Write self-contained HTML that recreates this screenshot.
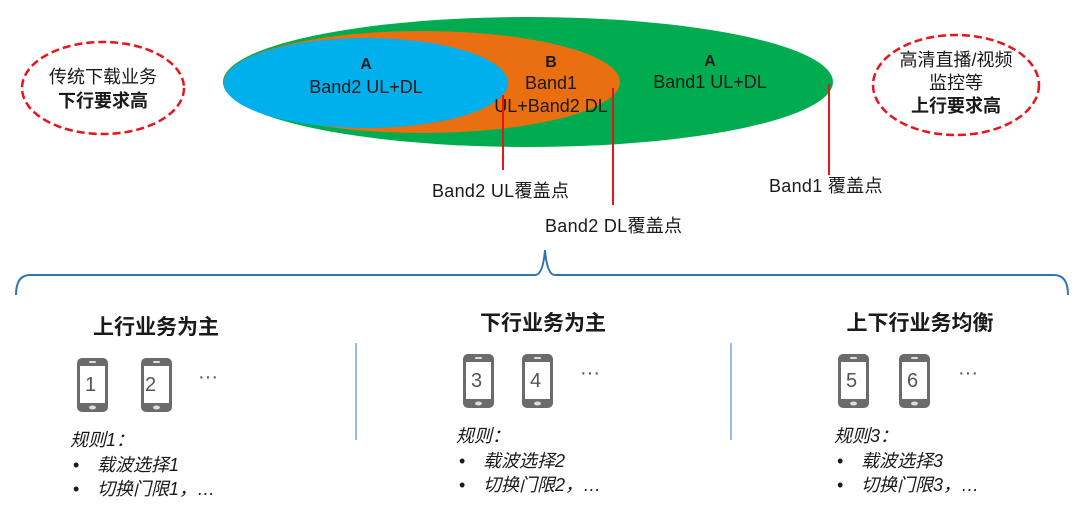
<!DOCTYPE html>
<html><head><meta charset="utf-8"><style>
body{margin:0;width:1080px;height:517px;background:#fff;overflow:hidden;font-family:"Liberation Sans","Noto Sans CJK SC",sans-serif;}
svg text{font-family:"Liberation Sans","Noto Sans CJK SC",sans-serif;}
</style></head><body>
<svg width="1080" height="517" viewBox="0 0 1080 517" xmlns="http://www.w3.org/2000/svg">
<defs>
<g id="ph">
<rect x="0" y="0" width="31" height="54" rx="5" fill="#6b6b6b"/>
<rect x="3" y="8" width="25" height="37" fill="#fff"/>
<rect x="12" y="3" width="7" height="2" rx="1" fill="#ddd"/>
<ellipse cx="15.5" cy="49.5" rx="3.5" ry="2" fill="#ddd"/>
</g>
</defs>
<ellipse cx="528" cy="82" rx="305" ry="65" fill="#00ac4f"/>
<ellipse cx="422" cy="82" rx="198" ry="51" fill="#e96f10"/>
<ellipse cx="366" cy="83" rx="142" ry="45" fill="#00b0ec"/>
<g fill="#1a1a1a" font-size="18" text-anchor="middle">
<text x="366" y="69" font-weight="bold" font-size="16">A</text>
<text x="366" y="93">Band2 UL+DL</text>
<text x="551" y="67" font-weight="bold" font-size="16">B</text>
<text x="551" y="89">Band1</text>
<text x="551" y="112">UL+Band2 DL</text>
<text x="710" y="66" font-weight="bold" font-size="16">A</text>
<text x="710" y="88">Band1 UL+DL</text>
</g>
<g stroke="#e8141c" stroke-width="2">
<line x1="503" y1="95" x2="503" y2="170"/>
<line x1="613" y1="88" x2="613" y2="205"/>
<line x1="829" y1="84" x2="829" y2="175"/>
</g>
<g fill="#1a1a1a" font-size="18" letter-spacing="0.3">
<text x="432" y="197">Band2 UL覆盖点</text>
<text x="545" y="232">Band2 DL覆盖点</text>
<text x="769" y="192">Band1 覆盖点</text>
</g>
<ellipse cx="103" cy="88" rx="81" ry="46" fill="none" stroke="#e8141c" stroke-width="2.5" stroke-dasharray="8,4"/>
<ellipse cx="956" cy="85" rx="83" ry="50" fill="none" stroke="#e8141c" stroke-width="2.5" stroke-dasharray="8,4"/>
<g fill="#1a1a1a" font-size="18" text-anchor="middle">
<text x="103" y="83">传统下载业务</text>
<text x="103" y="107" font-weight="bold">下行要求高</text>
<text x="956" y="66">高清直播/视频</text>
<text x="956" y="89">监控等</text>
<text x="956" y="112" font-weight="bold">上行要求高</text>
</g>
<path d="M16 295 Q16 275 30 275 L535 275 Q543 275 545 250 Q547 275 555 275 L1054 275 Q1068 275 1068 295" fill="none" stroke="#2e75b6" stroke-width="2"/>
<g stroke="#6fa8dc" stroke-width="1.5">
<line x1="356" y1="343" x2="356" y2="440"/>
<line x1="731" y1="343" x2="731" y2="440"/>
</g>
<g fill="#1a1a1a" font-size="21" font-weight="bold" text-anchor="middle">
<text x="156" y="334">上行业务为主</text>
<text x="543" y="330">下行业务为主</text>
<text x="920" y="330">上下行业务均衡</text>
</g>
<use href="#ph" x="77" y="358"/><use href="#ph" x="141" y="358"/>
<use href="#ph" x="463" y="354"/><use href="#ph" x="522" y="354"/>
<use href="#ph" x="838" y="354"/><use href="#ph" x="899" y="354"/>
<g fill="#555" font-size="20">
<text x="85" y="391">1</text><text x="145" y="391">2</text>
<text x="471" y="387">3</text><text x="530" y="387">4</text>
<text x="846" y="387">5</text><text x="907" y="387">6</text>
<text x="198" y="383" font-size="20">···</text>
<text x="580" y="379" font-size="20">···</text>
<text x="958" y="379" font-size="20">···</text>
</g>
<g fill="#1a1a1a" font-size="18" font-style="italic">
<text x="70" y="446">规则1：</text>
<text x="73" y="471" font-style="normal">•</text><text x="97" y="471">载波选择1</text>
<text x="73" y="495" font-style="normal">•</text><text x="97" y="495">切换门限1，…</text>
<text x="456" y="442">规则：</text>
<text x="459" y="467" font-style="normal">•</text><text x="483" y="467">载波选择2</text>
<text x="459" y="491" font-style="normal">•</text><text x="483" y="491">切换门限2，…</text>
<text x="834" y="442">规则3：</text>
<text x="837" y="467" font-style="normal">•</text><text x="861" y="467">载波选择3</text>
<text x="837" y="491" font-style="normal">•</text><text x="861" y="491">切换门限3，…</text>
</g>
</svg>
</body></html>
